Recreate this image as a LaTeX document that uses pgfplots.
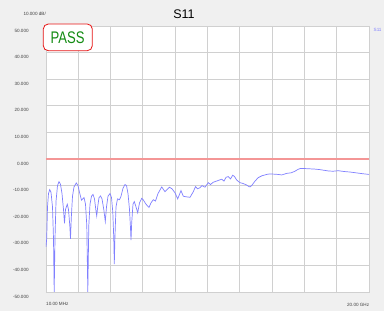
\documentclass[border=0pt]{standalone}
\usepackage{pgfplots}
\pgfplotsset{compat=1.18}
\usepackage{fontspec}
\setmainfont{Liberation Sans}
\definecolor{bggray}{RGB}{240,240,240}
\definecolor{gridgray}{RGB}{208,208,208}
\definecolor{trace}{RGB}{128,128,255}
\definecolor{limitred}{RGB}{244,150,150}
\definecolor{passgreen}{RGB}{20,140,20}
\definecolor{boxred}{RGB}{230,20,20}
\begin{document}
\begin{tikzpicture}[x=1pt,y=1pt]
\fill[bggray] (0,0) rectangle (384,311);
\begin{axis}[
  at={(46pt,19pt)}, anchor=south west,
  scale only axis, width=323pt, height=266pt,
  xmin=0.01, xmax=20, ymin=-50, ymax=50,
  axis background/.style={fill=white},
  axis line style={draw=gridgray, line width=0.8pt},
  xtick={0.01,2.009,4.008,6.007,8.006,10.005,12.004,14.003,16.002,18.001,20},
  xticklabels={},
  ytick={-50,-40,-30,-20,-10,10,20,30,40,50},
  yticklabels={-50.000,-40.000,-30.000,-20.000,-10.000,10.000,20.000,30.000,40.000,50.000},
  extra y ticks={0},
  extra y tick labels={0.000},
  extra y tick style={grid=none},
  yticklabel style={font=\fontsize{4.6}{5}\selectfont, text=black!75, xshift=-13.8pt, yshift=-4.5pt},
  major tick length=0pt,
  grid=major,
  major grid style={draw=gridgray, line width=0.8pt},
  clip=true,
]
\addplot[color=limitred, line width=1.25pt, mark=none] table {
x y
0.01 0
20 0
};
\addplot[color=trace, line width=0.7pt, mark=none] coordinates {
(0.010,-33) (0.053,-30) (0.103,-18) (0.165,-13) (0.239,-11.5) (0.319,-12.5)
(0.412,-18) (0.474,-30) (0.517,-50) (0.567,-30) (0.629,-16) (0.722,-10)
(0.815,-8.5) (0.907,-9.5) (1.000,-13) (1.093,-19) (1.155,-24.2) (1.217,-19)
(1.328,-17) (1.402,-19) (1.483,-25) (1.526,-30) (1.576,-22) (1.650,-14)
(1.743,-10.5) (1.885,-9) (1.990,-10) (2.083,-12.5) (2.207,-15.5) (2.362,-14.5)
(2.455,-17) (2.535,-25) (2.597,-50) (2.659,-25) (2.733,-17) (2.826,-14)
(2.919,-13.3) (3.012,-15) (3.092,-19) (3.148,-21.4) (3.210,-18) (3.290,-14.5)
(3.383,-13.9) (3.476,-15) (3.587,-19) (3.680,-23.5) (3.754,-18) (3.847,-14)
(3.971,-13) (4.064,-14.5) (4.144,-20) (4.206,-30) (4.237,-39.5) (4.274,-30)
(4.342,-18) (4.435,-15) (4.559,-15.3) (4.652,-14) (4.775,-11) (4.899,-9.6)
(4.992,-10) (5.085,-13) (5.178,-19) (5.240,-26) (5.271,-30.5) (5.314,-24)
(5.394,-17) (5.475,-16) (5.580,-18) (5.685,-20.2) (5.797,-16.5) (5.933,-14.8)
(6.044,-15.5) (6.199,-17) (6.385,-18.2) (6.508,-16.5) (6.651,-15.3) (6.787,-15.8)
(6.942,-13) (7.171,-10.5) (7.375,-12.3) (7.499,-11.5) (7.641,-10.6) (7.808,-11.2)
(7.994,-12.7) (8.161,-15) (8.365,-11.9) (8.507,-14) (8.674,-14.2) (8.922,-14.4)
(9.126,-12.3) (9.262,-10.4) (9.386,-11.2) (9.541,-10.8) (9.665,-10) (9.850,-10.6)
(10.055,-8.9) (10.191,-9.6) (10.345,-8.8) (10.469,-8.5) (10.655,-8.1) (10.884,-7.6)
(11.026,-8.3) (11.150,-6.9) (11.292,-6.6) (11.429,-7.5) (11.565,-6.1) (11.676,-6.6)
(11.812,-7.9) (12.016,-8.9) (12.202,-9.2) (12.431,-9.8) (12.573,-10.4) (12.666,-10.4)
(12.790,-9.6) (12.945,-8.3) (13.149,-7.0) (13.378,-6.3) (13.669,-5.8) (13.873,-5.6)
(14.121,-5.7) (14.368,-5.8) (14.597,-6.0) (14.907,-5.4) (15.173,-5.2) (15.420,-4.6)
(15.575,-4.0) (15.730,-3.6) (16.039,-3.6) (16.349,-3.7) (16.658,-3.8) (16.968,-4.0)
(17.277,-4.3) (17.481,-4.5) (17.772,-4.6) (18.100,-4.4) (18.453,-4.7) (18.824,-4.9)
(19.196,-5.2) (19.567,-5.5) (20.000,-5.8)
};
\end{axis}
% text around the chart
\node[font=\fontsize{12.5}{14}\selectfont, anchor=center] at (184,297.3) {S11};
\node[font=\fontsize{4.6}{5}\selectfont, text=black!75, anchor=east, inner sep=0pt] at (46,297) {10.000 dB/};
\node[font=\fontsize{4.6}{5}\selectfont, text=trace, anchor=west, inner sep=0pt] at (373.5,281) {S11};
\node[font=\fontsize{4.6}{5}\selectfont, text=black!75, anchor=west, inner sep=0pt] at (46,7) {10.00 MHz};
\node[font=\fontsize{4.6}{5}\selectfont, text=black!75, anchor=east, inner sep=0pt] at (369.3,6) {20.00 GHz};
% PASS badge
\draw[boxred, line width=0.8pt, rounded corners=5pt, fill=white] (43.3,260.3) rectangle (92.3,287);
\node[text=passgreen, inner sep=0pt, anchor=center] at (67.5,273) {\scalebox{0.78}[1]{\fontsize{16.8}{18}\selectfont PASS}};
\end{tikzpicture}
\end{document}
